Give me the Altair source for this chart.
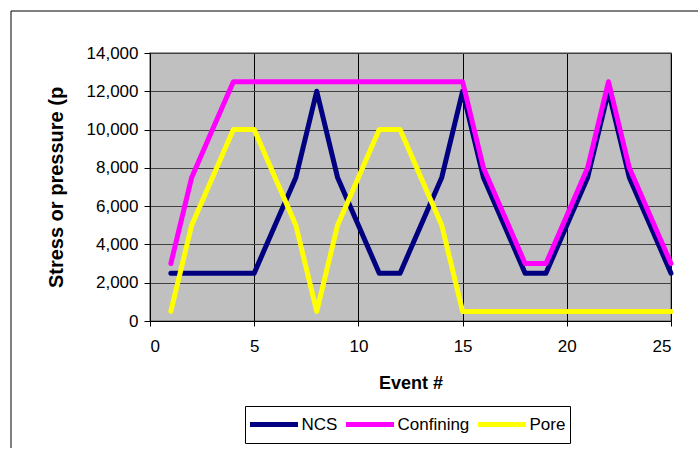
import altair as alt
import pandas as pd

events = list(range(1, 26))
ncs = [2500, 2500, 2500, 2500, 2500, 5000, 7500, 12000, 7500, 5000, 2500, 2500, 5000,
       7500, 12000, 7500, 5000, 2500, 2500, 5000, 7500, 12000, 7500, 5000, 2500]
confining = [3000, 7500, 10000, 12500, 12500, 12500, 12500, 12500, 12500, 12500, 12500,
             12500, 12500, 12500, 12500, 8000, 5500, 3000, 3000, 5500, 8000, 12500, 8000,
             5500, 3000]
pore = [500, 5000, 7500, 10000, 10000, 7500, 5000, 500, 5000, 7500, 10000, 10000, 7500,
        5000, 500, 500, 500, 500, 500, 500, 500, 500, 500, 500, 500]
series_names = ["NCS", "Confining", "Pore"]
series_colors = ["#000080", "#FF00FF", "#FFFF00"]
x_ticks = [0, 5, 10, 15, 20, 25]
y_ticks = [0, 2000, 4000, 6000, 8000, 10000, 12000, 14000]

rows = []
for name, vals in zip(series_names, [ncs, confining, pore]):
    for e, v in zip(events, vals):
        rows.append({"Event": e, "Value": v, "Series": name})
df = pd.DataFrame(rows)

FONT = "Liberation Sans"

lines = alt.Chart(df).mark_line(strokeWidth=5, strokeJoin="round", strokeCap="round").encode(
    x=alt.X("Event:Q",
            scale=alt.Scale(domain=[0, 25], nice=False),
            axis=alt.Axis(values=x_ticks, format="d", title="Event #", grid=True,
                          gridColor="#000000", gridWidth=1, domainColor="#000000",
                          tickColor="#000000", tickSize=5, labelFontSize=17, labelFont=FONT,
                          labelColor="#000000", labelBaseline="alphabetic", labelPadding=25,
                          titleFont=FONT, titleFontSize=18, titleFontWeight="bold",
                          titleColor="#000000", titleBaseline="alphabetic", titleY=67)),
    y=alt.Y("Value:Q",
            scale=alt.Scale(domain=[0, 14000], nice=False),
            axis=alt.Axis(values=y_ticks, format=",d", title="Stress or pressure (p",
                          grid=True, gridColor="#404040", gridWidth=1.2,
                          domainColor="#000000", tickColor="#000000", tickSize=6,
                          labelPadding=6, labelFontSize=17, labelFont=FONT,
                          labelColor="#000000", titleFont=FONT, titleFontSize=20,
                          titleFontWeight="bold", titleColor="#000000",
                          titleX=-84, titleY=134, titleBaseline="bottom")),
    color=alt.Color("Series:N",
                    scale=alt.Scale(domain=series_names, range=series_colors),
                    legend=alt.Legend(title=None, orient="none", legendX=95, legendY=353,
                                      direction="horizontal",
                                      symbolType="M-4.8,0H4.8",
                                      symbolStrokeWidth=5, symbolSize=100,
                                      symbolOffset=16.5, clipHeight=29,
                                      labelFontSize=17, labelFont=FONT, labelColor="#000000",
                                      strokeColor="#000000", padding=4, columnPadding=7,
                                      labelOffset=19)),
)

frame_df = pd.DataFrame({"k": [0]})
left_edge = alt.Chart(frame_df).mark_rule(color="#000000", strokeWidth=1).encode(
    x=alt.value(-139), y=alt.value(-42), y2=alt.value(395))
top_edge = alt.Chart(frame_df).mark_rule(color="#000000", strokeWidth=1).encode(
    x=alt.value(-139), x2=alt.value(548), y=alt.value(-42))

chart = alt.layer(lines, left_edge, top_edge).properties(
    width=521, height=268,
    padding={"left": 10, "top": 10, "right": 0, "bottom": 0},
    background="#FFFFFF",
).configure_view(fill="#C0C0C0", stroke="#808080", strokeWidth=1.5)

chart.save("out.html", embed_options={"renderer": "svg", "actions": False})
